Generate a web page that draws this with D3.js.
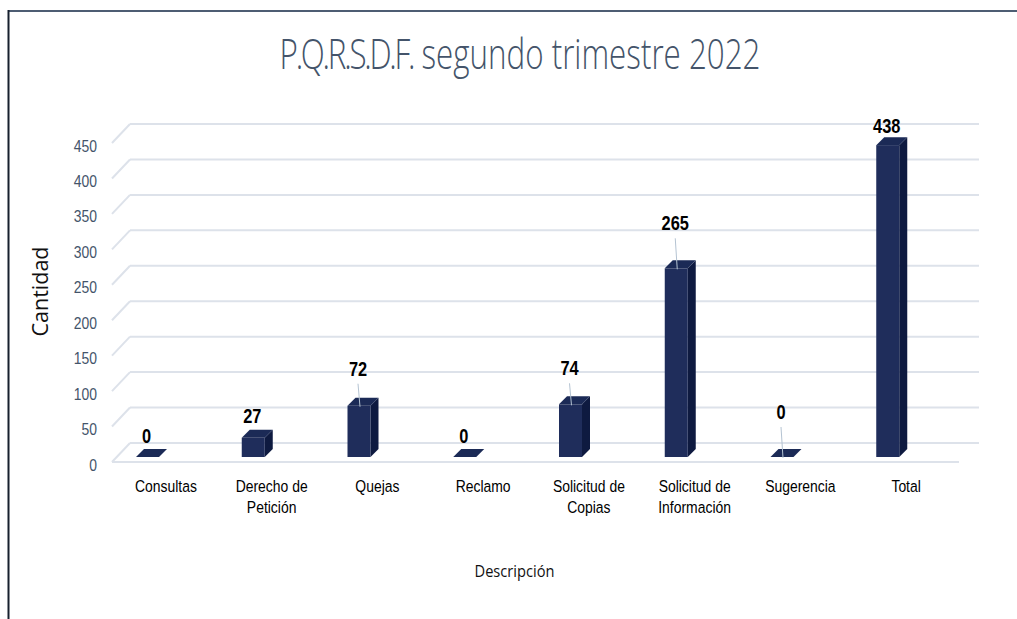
<!DOCTYPE html>
<html>
<head>
<meta charset="utf-8">
<script src="https://cdn.jsdelivr.net/npm/d3@7"></script>
<style>
  html, body { margin: 0; padding: 0; background: #fff; }
  svg { display: block; }
</style>
</head>
<body>
<svg id="chart" width="1017" height="619"></svg>
<script>
// ---- data ----
const categories = [
  ["Consultas"],
  ["Derecho de", "Petición"],
  ["Quejas"],
  ["Reclamo"],
  ["Solicitud de", "Copias"],
  ["Solicitud de", "Información"],
  ["Sugerencia"],
  ["Total"]
];
const values = [0, 27, 72, 0, 74, 265, 0, 438];
const yTicks = [0, 50, 100, 150, 200, 250, 300, 350, 400, 450];
const titleParts = ["P.Q.R.S.D.F.", " segundo trimestre 2022"];
const xTitle = "Descripción";
const yTitle = "Cantidad";

// ---- layout (pixels) ----
const labelLift = [14, 15, 30, 14, 29, 38, 38, 12];

const svg = d3.select("#chart");
const W = 1017, H = 619;
const NARROW = 0.82;
const SANS = "'Liberation Sans', Arial, sans-serif";
svg.append("rect").attr("width", W).attr("height", H).attr("fill", "#fff");

function narrowText(parent, tx, ty, str, opts) {
  const gg = parent.append("g").attr("transform", `translate(${tx},${ty}) scale(${NARROW},1)`);
  const t = gg.append("text").attr("x", 0).attr("y", 0)
    .attr("text-anchor", opts.anchor || "middle")
    .attr("font-family", SANS)
    .attr("font-size", opts.size)
    .attr("font-weight", opts.weight || "normal")
    .attr("fill", opts.fill || "#000");
  t.text(str);
  return t;
}

// text fitted to a target width by a uniform horizontal scale
function fittedText(parent, tx, ty, rot, parts, width, opts) {
  const gg = parent.append("g");
  const t = gg.append("text").attr("x", 0).attr("y", 0)
    .attr("text-anchor", "middle")
    .attr("font-family", opts.family)
    .attr("font-size", opts.size)
    .attr("font-weight", opts.weight || "normal")
    .attr("fill", opts.fill || "#000");
  parts.forEach((p, k) => {
    const s = t.append("tspan").text(p);
    if (opts.tight && k === 0) s.attr("letter-spacing", opts.tight);
  });
  const w = t.node().getComputedTextLength() || width;
  gg.attr("transform", `translate(${tx},${ty}) rotate(${rot}) scale(${width / w},1)`);
  return t;
}

// frame
svg.append("line").attr("x1", 8).attr("x2", W).attr("y1", 11).attr("y2", 11)
  .attr("stroke", "#4d5d73").attr("stroke-width", 2);
svg.append("line").attr("x1", 8.5).attr("x2", 8.5).attr("y1", 10).attr("y2", H)
  .attr("stroke", "#17202e").attr("stroke-width", 2);

const keys = categories.map((c, i) => i);
const x = d3.scaleBand().domain(keys).range([113, 959]).paddingInner(0).paddingOuter(0);
const depthX = 18, depthY = 19;        // floor depth
const gridFront = d3.scaleLinear().domain([0, 450]).range([462, 143]);
const yBar = d3.scaleLinear().domain([0, 450]).range([457, 457 - 0.712 * 450]);

const gridColor = "#dde2ea";
const g = svg.append("g");

// back wall gridlines + left wall diagonals
yTicks.forEach(v => {
  const yf = gridFront(v), yb = yf - depthY;
  g.append("line").attr("x1", 112 + depthX).attr("x2", 979).attr("y1", yb).attr("y2", yb)
    .attr("stroke", gridColor).attr("stroke-width", 2);
  g.append("line").attr("x1", 112).attr("x2", 112 + depthX).attr("y1", yf).attr("y2", yb)
    .attr("stroke", gridColor).attr("stroke-width", 2);
});
// floor front edge
g.append("line").attr("x1", 112).attr("x2", 959).attr("y1", gridFront(0)).attr("y2", gridFront(0))
  .attr("stroke", gridColor).attr("stroke-width", 2);

// tick labels
const tickG = svg.append("g");
yTicks.forEach(v => {
  narrowText(tickG, 97, gridFront(v) + 8.5, v, { anchor: "end", size: 17, fill: "#44546a" });
});

// bars (3D)
const faceW = 23, dx = 8, dy = 8, offset = 23;
const bars = svg.append("g").selectAll("g").data(values).join("g");
bars.each(function (v, i) {
  const gg = d3.select(this);
  const x0 = x(i) + offset, x1 = x0 + faceW;
  const yb = yBar(0), yt = yBar(v);
  gg.append("path")
    .attr("d", `M${x1},${yb} L${x1 + dx},${yb - dy} L${x1 + dx},${yt - dy} L${x1},${yt} Z`)
    .attr("fill", "#0e1a40");
  gg.append("rect").attr("x", x0).attr("y", yt).attr("width", faceW).attr("height", yb - yt)
    .attr("fill", "#1f2d5b");
  gg.append("path")
    .attr("d", `M${x0},${yt} L${x0 + dx},${yt - dy} L${x1 + dx},${yt - dy} L${x1},${yt} Z`)
    .attr("fill", "#1b2a56");
});

// value labels + leader lines
const lab = svg.append("g");
values.forEach((v, i) => {
  const cx = x(i) + offset + faceW / 2;
  const top = yBar(v);
  const base = top - labelLift[i];
  if (labelLift[i] > 20) {
    lab.append("line").attr("x1", cx - 1).attr("y1", base + 8).attr("x2", cx + 1).attr("y2", top + 1)
      .attr("stroke", "#b4c3d2").attr("stroke-width", 1);
  }
  narrowText(lab, cx - 1, base, v, { size: 20, weight: "bold" });
});

// category labels
const catG = svg.append("g");
categories.forEach((d, i) => {
  d.forEach((line, j) => {
    narrowText(catG, x(i) + x.bandwidth() / 2, 492 + j * 21, line, { size: 17 });
  });
});

// titles
const OPEN = "'Open Sans', 'Noto Sans', sans-serif";
fittedText(svg, 520, 69, 0, titleParts, 481,
  { family: OPEN, size: 42, weight: 300, fill: "#44546a", tight: -3 });
fittedText(svg, 514.5, 577, 0, [xTitle], 80,
  { family: OPEN, size: 17, fill: "#111" });
fittedText(svg, 48, 291.5, -90, [yTitle], 90,
  { family: OPEN, size: 21, fill: "#111" });
</script>
</body>
</html>
